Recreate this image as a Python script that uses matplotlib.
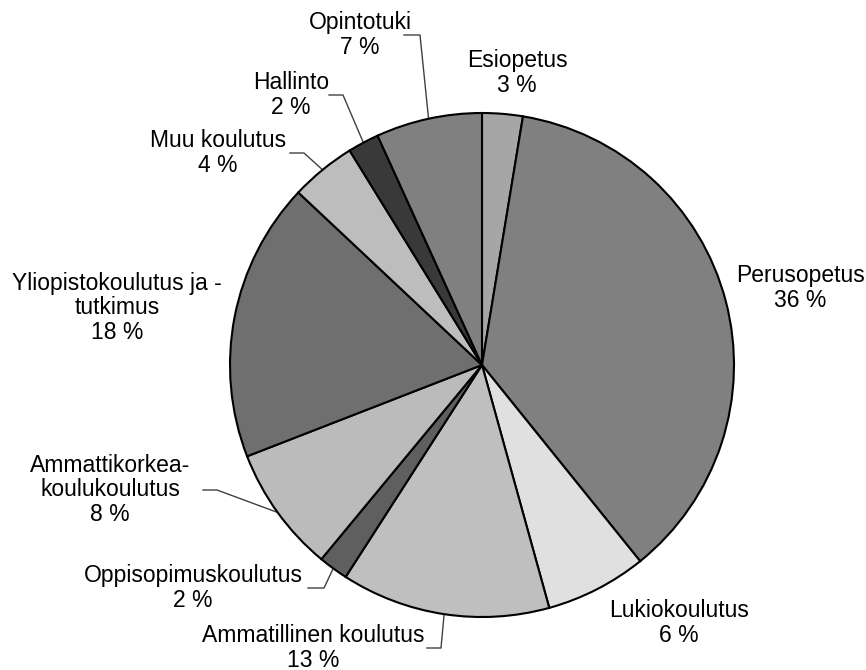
import numpy as np
import matplotlib
matplotlib.use("Agg")
import matplotlib.pyplot as plt

plt.rcParams['font.family'] = ['Liberation Sans', 'DejaVu Sans']

# osuudet (%) myötäpäivään klo 12:sta alkaen
luokat = ["Esiopetus", "Perusopetus", "Lukiokoulutus", "Ammatillinen koulutus",
          "Oppisopimuskoulutus", "Ammattikorkea-\nkoulukoulutus",
          "Yliopistokoulutus ja -\ntutkimus", "Muu koulutus", "Hallinto", "Opintotuki"]
osuudet = [2.6, 36.6, 6.5, 13.4, 1.9, 8.1, 17.9, 4.2, 2.0, 6.8]
prosentit = ["3 %", "36 %", "6 %", "13 %", "2 %", "8 %", "18 %", "4 %", "2 %", "7 %"]
varit = ["#a6a6a6", "#808080", "#e0e0e0", "#bfbfbf", "#5f5f5f",
         "#bbbbbb", "#6f6f6f", "#bdbdbd", "#393939", "#808080"]

# tekstien keskipisteet kuvapikseleinä
teksti_xy = [(517, 73), (800, 288), (679, 623), (313, 648), (193, 588),
             (110, 490), (117, 308), (218, 153), (291, 95), (360, 35)]
# ohjausviivat: (indeksi, viivan alku x, kulma x)
ohjaimet = [(9, 404, 420), (8, 329, 343), (7, 290, 304),
            (5, 203, 217), (4, 308, 324), (3, 427, 441)]

W, H = 866, 670
CX, CY, R = 482, 365, 252

def px(x, y):
    return (x - CX) / R, (CY - y) / R

fig = plt.figure(figsize=(W / 100, H / 100), dpi=100)
ax = fig.add_axes([0, 0, 1, 1])
ax.axis('off')

wedges, _ = ax.pie(osuudet, colors=varit, startangle=90, counterclock=False,
                   radius=1, center=(0, 0),
                   wedgeprops=dict(edgecolor='black', linewidth=1.5))
ax.set_xlim(-CX / R, (W - CX) / R)
ax.set_ylim((CY - H) / R, CY / R)
ax.set_aspect('equal')

for i, (lab, pr) in enumerate(zip(luokat, prosentit)):
    x, y = px(*teksti_xy[i])
    ax.text(x, y, lab + "\n" + pr, ha='center', va='center', fontsize=16.5,
            linespacing=1.08, color='black')

for i, x0, x1 in ohjaimet:
    w = wedges[i]
    th = np.deg2rad((w.theta1 + w.theta2) / 2)
    yl = teksti_xy[i][1]
    ax.plot([px(x0, yl)[0], px(x1, yl)[0], np.cos(th)],
            [px(x0, yl)[1], px(x1, yl)[1], np.sin(th)],
            color='#404040', linewidth=1.0, zorder=0)

fig.savefig("out.png", dpi=100)
